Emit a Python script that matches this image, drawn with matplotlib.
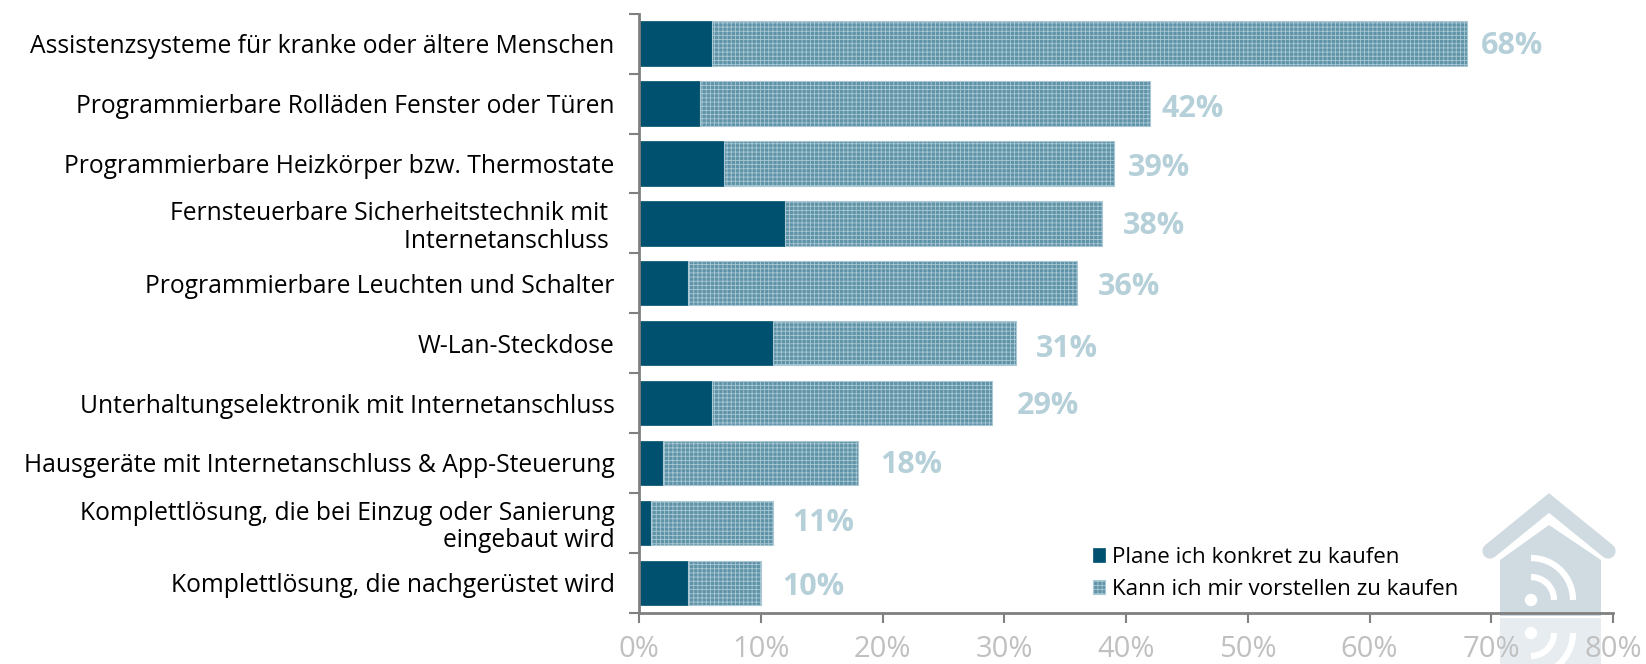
import numpy as np
import matplotlib
matplotlib.use('Agg')
import matplotlib.pyplot as plt
from matplotlib.patches import Polygon, Arc, Circle
from matplotlib.transforms import ScaledTranslation

plt.rcParams['font.family'] = ['Open Sans', 'DejaVu Sans']
plt.rcParams['hatch.linewidth'] = 0.6

labels = ['Assistenzsysteme für kranke oder ältere Menschen',
          'Programmierbare Rolläden Fenster oder Türen',
          'Programmierbare Heizkörper bzw. Thermostate',
          'Fernsteuerbare Sicherheitstechnik mit \nInternetanschluss ',
          'Programmierbare Leuchten und Schalter',
          'W-Lan-Steckdose',
          'Unterhaltungselektronik mit Internetanschluss',
          'Hausgeräte mit Internetanschluss & App-Steuerung',
          'Komplettlösung, die bei Einzug oder Sanierung\neingebaut wird',
          'Komplettlösung, die nachgerüstet wird']
plan = [6, 5, 7, 12, 4, 11, 6, 2, 1, 4]
vorstellen = [62, 37, 32, 26, 32, 20, 23, 16, 10, 6]
legend_names = ['Plane ich konkret zu kaufen', 'Kann ich mir vorstellen zu kaufen']
x_ticks = [0, 10, 20, 30, 40, 50, 60, 70, 80]

# the total labels do not sit at a constant distance from the bars
nudge_x = [14, 11, 14, 21, 21, 19, 25, 22, 19, 21]
nudge_y = [2, 5, 5, 3, 4, 6, 3, 2, 0, 4]

W, H = 1646, 664
DARK = '#00506f'
MID = '#5f93a8'
LIGHT = '#a9c8d3'
fig = plt.figure(figsize=(W / 100, H / 100), dpi=100)
ax = fig.add_axes([639 / W, 1 - 612.7 / H, (1613 - 639) / W, 599 / H])
ax.patch.set_alpha(0)


def fx(x):
    return x / W


def fy(y):
    return 1 - y / H


# watermark house behind the chart, with its reflection
HOUSE = '#d0dbe1'
body = [(1500, 560), (1549, 525), (1601, 560), (1601, 616), (1500, 616)]
fig.add_artist(Polygon([(fx(a), fy(b)) for a, b in body], closed=True,
                       transform=fig.transFigure, fc=HOUSE, ec='none', zorder=-5))
mirror = [(1500, 618), (1601, 618), (1601, 664), (1500, 664)]
fig.add_artist(Polygon([(fx(a), fy(b)) for a, b in mirror], closed=True,
                       transform=fig.transFigure, fc='#e6ecf0', ec='none', zorder=-5))
roof = [(1490, 551), (1549, 503), (1608, 551)]
fig.add_artist(plt.Line2D([fx(a) for a, b in roof], [fy(b) for a, b in roof],
                          transform=fig.transFigure, color=HOUSE, lw=11,
                          solid_capstyle='round', solid_joinstyle='miter', zorder=-5))
bg = fig.add_axes([0, 0, 1, 1], zorder=-1)
bg.set_xlim(0, W)
bg.set_ylim(H, 0)
bg.axis('off')
bg.patch.set_alpha(0)
for r in (23, 42):
    bg.add_patch(Arc((1531, 600), 2 * r, 2 * r, theta1=-90, theta2=0, color='white', lw=4.5))
    bg.add_patch(Arc((1531, 633), 2 * r, 2 * r, theta1=0, theta2=90, color='white', lw=4.5))
bg.add_patch(Circle((1531, 600), 5.5, color='white'))
bg.add_patch(Circle((1531, 633), 5.5, color='white'))
ax.set_zorder(2)

y = np.arange(len(labels))
ax.barh(y, plan, height=0.74, color=DARK, edgecolor=DARK, linewidth=0.5,
        label=legend_names[0])
ax.barh(y, vorstellen, left=plan, height=0.74, color=MID, edgecolor=LIGHT,
        hatch='++++', linewidth=0.8, label=legend_names[1])

for i in range(len(labels)):
    total = plan[i] + vorstellen[i]
    ax.annotate('%d%%' % total, (total, i), xytext=(nudge_x[i] * 0.72, -nudge_y[i] * 0.72),
                textcoords='offset points', va='center', ha='left',
                fontsize=22, fontweight='bold', color='#b6d0d9')

ax.set_xlim(0, 80)
ax.set_ylim(len(labels) - 0.5, -0.5)
ax.set_yticks(np.arange(len(labels) + 1) - 0.5)
ax.set_yticklabels([])
ax.set_yticks(y, minor=True)
ax.set_yticklabels(labels, minor=True, fontsize=17.7, color='black', linespacing=1.12,
                   ha='right')
shift = ScaledTranslation(0, 1.5 / 100, fig.dpi_scale_trans)
for t in ax.get_yticklabels(minor=True):
    t.set_transform(t.get_transform() + shift)
ax.tick_params(axis='y', which='minor', length=0, pad=17.5)
ax.tick_params(axis='y', which='major', length=7.5, width=1.5, color='#808080')
ax.set_xticks(x_ticks)
ax.set_xticklabels(['%d%%' % v for v in x_ticks], fontsize=21, color='#c0c0c0')
ax.tick_params(axis='x', length=7, width=1.5, color='#808080', pad=9)
for s in ('top', 'right'):
    ax.spines[s].set_visible(False)
for s in ('left', 'bottom'):
    ax.spines[s].set_color('#808080')
    ax.spines[s].set_linewidth(2)

ax.legend(loc='lower right', bbox_to_anchor=(1458 / W, fy(600)), bbox_transform=fig.transFigure,
          frameon=False, fontsize=16.1, handlelength=0.55, handleheight=0.55,
          handletextpad=0.3, labelspacing=0.5, borderpad=0, borderaxespad=0)

fig.savefig('out.png', dpi=100)
